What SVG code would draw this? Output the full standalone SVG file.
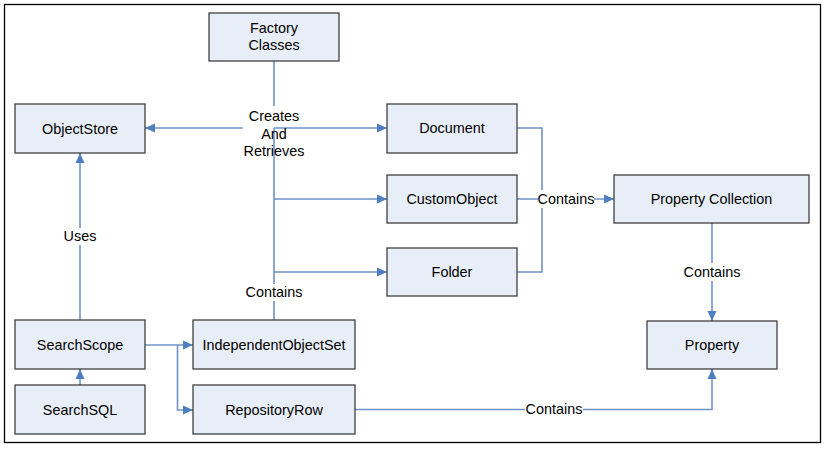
<svg xmlns="http://www.w3.org/2000/svg" width="828" height="450" viewBox="0 0 828 450">
<defs>
<style>
.box{fill:#e8eef7;stroke:#404040;stroke-width:1.3}
.t{font-family:"Liberation Sans",Arial,sans-serif;font-size:14.4px;fill:#000;text-anchor:middle;dominant-baseline:central}
.ln{fill:none;stroke:#6f93c6;stroke-width:1.6}
.bg{fill:#fff}
</style>
<marker id="ar" markerWidth="10" markerHeight="10" viewBox="0 0 10 10" refX="10" refY="5" orient="auto" markerUnits="userSpaceOnUse">
<path d="M0,0.5 L10,5 L0,9.5 z" fill="#4f7fc0"/>
</marker>
</defs>
<rect x="0" y="0" width="828" height="450" fill="#fff"/>
<rect x="4.5" y="4.5" width="816" height="438" fill="none" stroke="#000" stroke-width="1.3"/>
<g id="connectors">
<path class="ln" d="M274,61 V106"/>
<path class="ln" d="M274,128 V320"/>
<path class="ln" d="M243,128 H145" marker-end="url(#ar)"/>
<path class="ln" d="M274,128 H387" marker-end="url(#ar)"/>
<path class="ln" d="M274,199 H387" marker-end="url(#ar)"/>
<path class="ln" d="M274,272 H387" marker-end="url(#ar)"/>
<path class="ln" d="M517,128 H542 V272 H517"/>
<path class="ln" d="M517,199 H614" marker-end="url(#ar)"/>
<path class="ln" d="M712,223 V321" marker-end="url(#ar)"/>
<path class="ln" d="M355,409.5 H712 V369" marker-end="url(#ar)"/>
<path class="ln" d="M80,320 V153" marker-end="url(#ar)"/>
<path class="ln" d="M80,385 V369" marker-end="url(#ar)"/>
<path class="ln" d="M145,345 H193" marker-end="url(#ar)"/>
<path class="ln" d="M177.5,345 V410 H193" marker-end="url(#ar)"/>
<rect class="bg" x="248" y="284" width="52" height="17"/>
<text class="t" x="274" y="292">Contains</text>
<rect class="bg" x="538" y="190" width="56" height="18"/>
<text class="t" x="566" y="199">Contains</text>
<rect class="bg" x="684" y="263" width="56" height="18"/>
<text class="t" x="712" y="272">Contains</text>
<rect class="bg" x="525" y="401" width="58" height="17"/>
<text class="t" x="554" y="409">Contains</text>
<rect class="bg" x="61" y="228" width="38" height="17"/>
<text class="t" x="80" y="236">Uses</text>
<text class="t" x="274" y="116">Creates</text>
<text class="t" x="274" y="134">And</text>
<text class="t" x="274" y="151">Retrieves</text>
</g>
<g id="factory"><rect class="box" x="209" y="13" width="130" height="48"/><text class="t" x="274" y="28">Factory</text><text class="t" x="274" y="45">Classes</text></g>
<g id="objectstore"><rect class="box" x="15" y="104" width="130" height="49"/><text class="t" x="80" y="128.5">ObjectStore</text></g>
<g id="document"><rect class="box" x="387" y="104" width="130" height="49"/><text class="t" x="452" y="128">Document</text></g>
<g id="customobject"><rect class="box" x="387" y="175" width="130" height="48"/><text class="t" x="452" y="198.5">CustomObject</text></g>
<g id="folder"><rect class="box" x="387" y="248" width="130" height="48"/><text class="t" x="452" y="272">Folder</text></g>
<g id="propcollection"><rect class="box" x="614" y="175" width="195" height="48"/><text class="t" x="711.5" y="198.5">Property Collection</text></g>
<g id="property"><rect class="box" x="647" y="321" width="130" height="48"/><text class="t" x="712" y="344.5">Property</text></g>
<g id="searchscope"><rect class="box" x="15" y="320" width="130" height="49"/><text class="t" x="80" y="344.5">SearchScope</text></g>
<g id="searchsql"><rect class="box" x="15" y="385" width="130" height="49"/><text class="t" x="80" y="409.5">SearchSQL</text></g>
<g id="ios"><rect class="box" x="193" y="320" width="162" height="49"/><text class="t" x="274" y="344.5">IndependentObjectSet</text></g>
<g id="reporow"><rect class="box" x="193" y="385" width="162" height="49"/><text class="t" x="274" y="409.5">RepositoryRow</text></g>
</svg>
